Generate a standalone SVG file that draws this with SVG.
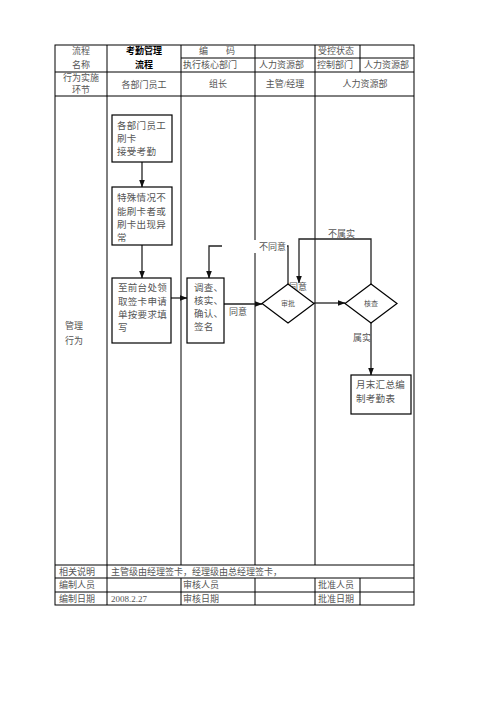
<svg xmlns="http://www.w3.org/2000/svg" width="496" height="702" viewBox="0 0 496 702">
<style>
.t{font-family:"Liberation Serif","Noto Sans CJK SC",serif;font-size:9px;fill:#555}
.c{text-anchor:middle}
.b{font-weight:bold;fill:#000}
.n{font-family:"Liberation Serif","Noto Sans CJK SC",serif;font-size:9.5px;fill:#555;letter-spacing:0.3px}
.s{font-family:"Liberation Serif","Noto Sans CJK SC",serif;font-size:7px;fill:#555;text-anchor:middle}
.g{stroke:#000;stroke-width:1;fill:none}
.box{fill:#fff;stroke:#000;stroke-width:1.2}
.cn{fill:none;stroke:#222;stroke-width:1.3}
</style>
<defs>
<marker id="ar" markerWidth="8" markerHeight="6" refX="7.5" refY="3" orient="auto" markerUnits="userSpaceOnUse">
<path d="M0,0 L8,3 L0,6 z" fill="#111"/>
</marker>
</defs>
<rect width="496" height="702" fill="#fff"/>
<g id="table">
<rect x="55" y="45" width="359" height="560" class="g"/>
<path class="g" d="M181,58 H414 M55,72 H414 M55,96 H414 M55,565 H414 M55,578 H414 M55,592 H414"/>
<path class="g" d="M107,45 V565 M181,45 V565 M255,45 V565 M315,45 V565 M360,45 V72 M107,565 V605 M181,578 V605 M255,578 V605 M315,578 V605 M360,578 V605"/>
<text class="t c" x="81" y="54">流程</text>
<text class="t c" x="81" y="68">名称</text>
<text class="t c b" x="144" y="54">考勤管理</text>
<text class="t c b" x="144" y="68">流程</text>
<text class="t" x="199" y="54">编</text>
<text class="t" x="226" y="54">码</text>
<text class="t" x="318" y="54">受控状态</text>
<text class="t" x="183" y="68">执行核心部门</text>
<text class="t" x="259" y="68">人力资源部</text>
<text class="t" x="317" y="68">控制部门</text>
<text class="t" x="364" y="68">人力资源部</text>
<text class="t c" x="81" y="81">行为实施</text>
<text class="t c" x="81" y="93">环节</text>
<text class="t c" x="144" y="88">各部门员工</text>
<text class="t c" x="218" y="87">组长</text>
<text class="t c" x="285" y="87">主管/经理</text>
<text class="t c" x="365" y="87">人力资源部</text>
<text class="t c" x="74" y="329">管理</text>
<text class="t c" x="74" y="344">行为</text>
<text class="t" x="59" y="575">相关说明</text>
<text class="t" x="111" y="575">主管级由经理签卡，经理级由总经理签卡，</text>
<text class="t" x="59" y="588">编制人员</text>
<text class="t" x="183" y="588">审核人员</text>
<text class="t" x="318" y="588">批准人员</text>
<text class="t" x="59" y="602">编制日期</text>
<text class="t" x="111" y="602">2008.2.27</text>
<text class="t" x="183" y="602">审核日期</text>
<text class="t" x="318" y="602">批准日期</text>
</g>
<g id="connectors">
<path class="cn" d="M142,162 V187" marker-end="url(#ar)"/>
<path class="cn" d="M142,245 V278" marker-end="url(#ar)"/>
<path class="cn" d="M171,298 H187" marker-end="url(#ar)"/>
<path class="cn" d="M224,304 H262" marker-end="url(#ar)"/>
<path class="cn" d="M314,303 H345" marker-end="url(#ar)"/>
<path class="cn" d="M288,284 V246 H209 V278" marker-end="url(#ar)"/>
<path class="cn" d="M371,284 V239 H299 V283" marker-end="url(#ar)"/>
<path class="cn" d="M371,323 V375" marker-end="url(#ar)"/>
<rect x="222" y="240" width="65" height="13" fill="#fff"/>
<text class="t" x="259" y="250">不同意</text>
<text class="t" x="229" y="315">同意</text>
<text class="t" x="328" y="237">不属实</text>
<text class="t" x="289" y="290">同意</text>
<text class="t" x="353" y="341">属实</text>
</g>
<g id="n1">
<rect class="box" x="112" y="115" width="60" height="47"/>
<text class="n" x="117" y="129">各部门员工</text>
<text class="n" x="117" y="142">刷卡</text>
<text class="n" x="117" y="155">接受考勤</text>
</g>
<g id="n2">
<rect class="box" x="112" y="187" width="60" height="58"/>
<text class="n" x="117" y="201">特殊情况不</text>
<text class="n" x="117" y="215">能刷卡者或</text>
<text class="n" x="117" y="228">刷卡出现异</text>
<text class="n" x="117" y="241">常</text>
</g>
<g id="n3">
<rect class="box" x="112" y="278" width="59" height="65"/>
<text class="n" x="118" y="291">至前台处领</text>
<text class="n" x="118" y="305">取签卡申请</text>
<text class="n" x="118" y="318">单按要求填</text>
<text class="n" x="118" y="331">写</text>
</g>
<g id="n4">
<rect class="box" x="187" y="278" width="37" height="65"/>
<text class="n" x="194" y="291">调查、</text>
<text class="n" x="194" y="304">核实、</text>
<text class="n" x="194" y="317">确认、</text>
<text class="n" x="194" y="330">签名</text>
</g>
<g id="n5">
<path class="box" d="M288,284 L314,303.5 L288,323 L262,303.5 Z"/>
<text class="s" x="288" y="306">审批</text>
</g>
<g id="n6">
<path class="box" d="M371,284 L397,303.5 L371,323 L345,303.5 Z"/>
<text class="s" x="371" y="306">核查</text>
</g>
<g id="n7">
<rect class="box" x="351" y="375" width="60" height="39"/>
<text class="n" x="356" y="388">月末汇总编</text>
<text class="n" x="356" y="402">制考勤表</text>
</g>
</svg>
